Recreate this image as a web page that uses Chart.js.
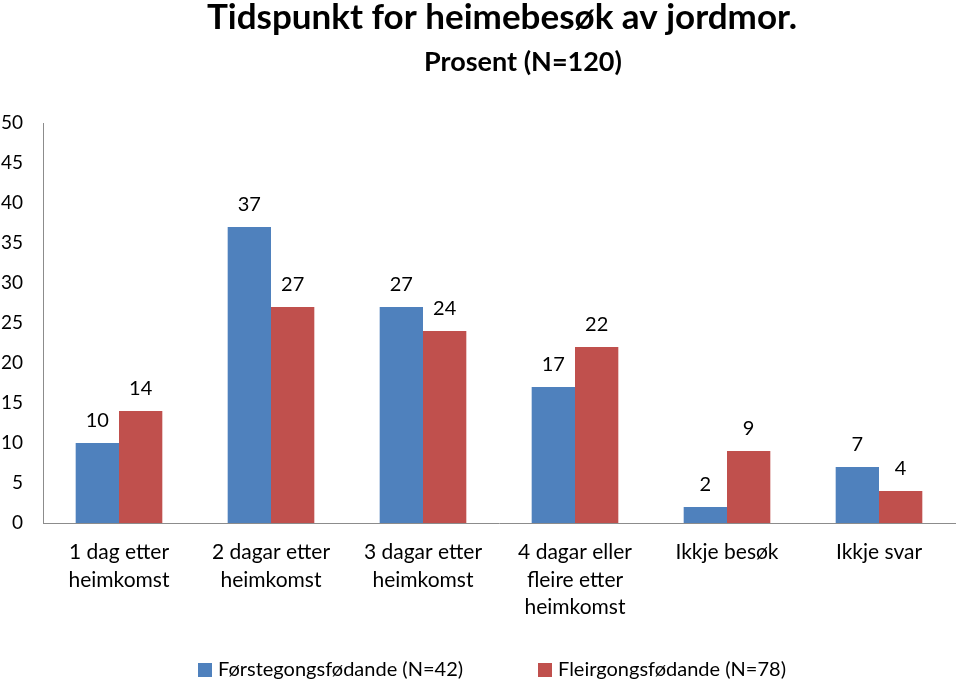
<!DOCTYPE html>
<html>
<head>
<meta charset="utf-8">
<script src="https://cdn.jsdelivr.net/npm/chart.js@4/dist/chart.umd.min.js"></script>
<style>
  html, body { margin: 0; padding: 0; background: #fff; }
  #wrap { width: 960px; height: 685px; }
</style>
</head>
<body>
<div id="wrap"><canvas id="jordmorChart"></canvas></div>
<script>
const categories = [
    ['1 dag etter', 'heimkomst'],
    ['2 dagar etter', 'heimkomst'],
    ['3 dagar etter', 'heimkomst'],
    ['4 dagar eller', 'fleire etter', 'heimkomst'],
    'Ikkje besøk',
    'Ikkje svar'
];
const forstegongs = [10, 37, 27, 17, 2, 7];
const fleirgongs = [14, 27, 24, 22, 9, 4];
const yTicks = [0, 5, 10, 15, 20, 25, 30, 35, 40, 45, 50];

const FONT = 'Lato, "Open Sans", sans-serif';

// title + subtitle, drawn by hand so they sit where the original put them
const titlePlugin = {
    id: 'titles',
    afterDraw(chart) {
        const c = chart.ctx;
        c.save();
        c.fillStyle = '#000';
        c.textAlign = 'center';
        c.textBaseline = 'middle';
        c.font = 'bold 35px ' + FONT;
        c.fillText('Tidspunkt for heimebesøk av jordmor.', 502, 18);
        c.font = 'bold 27px ' + FONT;
        c.fillText('Prosent (N=120)', 523, 62);
        c.restore();
    }
};

// legend at the bottom, spaced like the original (built-in one couldn't get the gap right)
const bottomLegend = {
    id: 'bottomLegend',
    afterDraw(chart) {
        const c = chart.ctx;
        const starts = [198, 538];
        c.save();
        c.font = '20px ' + FONT;
        c.textBaseline = 'middle';
        c.textAlign = 'left';
        chart.data.datasets.forEach((ds, i) => {
            const x = starts[i];
            c.fillStyle = ds.backgroundColor;
            c.fillRect(x, 663, 14, 14);
            c.fillStyle = '#000';
            c.fillText(ds.label, x + 20, 670);
        });
        c.restore();
    }
};

// value labels above each bar
const valueLabels = {
    id: 'valueLabels',
    afterDatasetsDraw(chart) {
        const c = chart.ctx;
        c.save();
        c.fillStyle = '#000';
        c.font = '20px ' + FONT;
        c.textAlign = 'center';
        c.textBaseline = 'middle';
        chart.data.datasets.forEach((ds, i) => {
            chart.getDatasetMeta(i).data.forEach((bar, j) => {
                c.fillText(ds.data[j], bar.x, bar.y - 22);
            });
        });
        c.restore();
    }
};

const ctx = document.getElementById('jordmorChart').getContext('2d');

const usageChart = new Chart(ctx, {
    type: 'bar',
    data: {
        labels: categories,
        datasets: [
        {
            label: 'Førstegongsfødande (N=42)',
            data: forstegongs,
            backgroundColor: '#4F81BD'
        },
        {
            label: 'Fleirgongsfødande (N=78)',
            data: fleirgongs,
            backgroundColor: '#C0504D'
        }
        ]
    },
    options: {
        responsive: true,
        maintainAspectRatio: false,
        animation: false,
        layout: { padding: { top: 123, right: 5, bottom: 62, left: 0 } },
        datasets: {
            bar: { categoryPercentage: 0.57, barPercentage: 1.0 }
        },
        plugins: {
            title: { display: false },
            tooltip: { enabled: false },
            legend: { display: false }
        },
        scales: {
            x: {
                grid: { display: false, drawTicks: false },
                border: { display: true, color: '#8c8c8c' },
                ticks: {
                    color: '#000',
                    font: { family: FONT, size: 21, lineHeight: 1.3 },
                    padding: 16,
                    maxRotation: 0,
                    autoSkip: false
                },
                afterFit(scale) { scale.height = 100; }
            },
            y: {
                min: 0,
                max: 50,
                afterBuildTicks(scale) { scale.ticks = yTicks.map(v => ({ value: v })); },
                grid: { display: false, drawTicks: false },
                border: { display: true, color: '#8c8c8c' },
                ticks: {
                    color: '#000',
                    font: { family: FONT, size: 19 },
                    padding: 20
                },
                afterFit(scale) { scale.width = 43; }
            }
        }
    },
    plugins: [titlePlugin, valueLabels, bottomLegend]
});
</script>
</body>
</html>
